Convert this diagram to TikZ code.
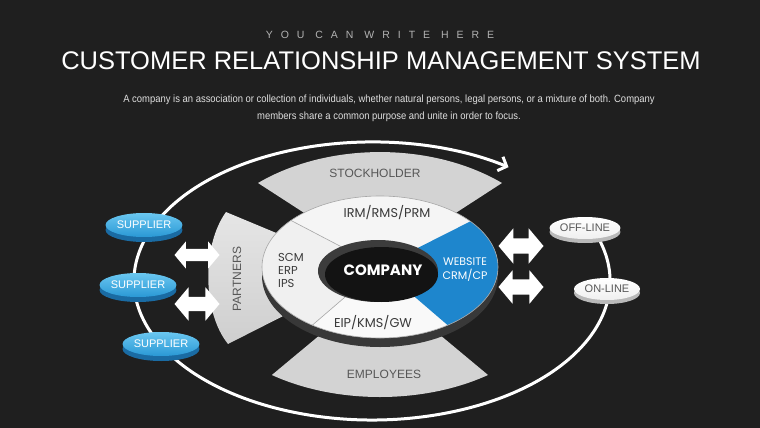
\documentclass[tikz,border=0pt]{standalone}
\usepackage{fontspec}
\setmainfont{Liberation Sans}
\newfontfamily\geo{Poppins}
\newfontfamily\narrow[FakeStretch=0.90]{Liberation Sans}
\newfontfamily\spaced[LetterSpace=76]{Liberation Sans}
\usetikzlibrary{shapes.geometric, shapes.arrows, arrows.meta, shadows}

\definecolor{bgdark}{HTML}{1F1F1F}
\definecolor{bandgray}{HTML}{D3D3D3}
\definecolor{ringside}{HTML}{383838}
\definecolor{holerim}{HTML}{3C3C3C}
\definecolor{holeblack}{HTML}{131313}
\definecolor{crmblue}{HTML}{1E86CD}
\definecolor{suptop}{HTML}{6AC7F0}
\definecolor{supbot}{HTML}{2A98D5}
\definecolor{supside}{HTML}{1A6BA3}
\definecolor{inktext}{HTML}{3A3A3A}
\definecolor{bandtext}{HTML}{575757}

\begin{document}
\begin{tikzpicture}[
  x=1pt, y=-1pt,
  every node/.style={inner sep=0pt},
  band/.style={fill=bandgray},
  orbit/.style={draw=white, line width=3pt, -{Straight Barb[length=7pt, width=15pt]}},
  divider/.style={draw=gray!70, line width=0.6pt},
  ringtext/.style={font=\geo\fontsize{12.8}{14}\selectfont, text=inktext, align=center},
  bandlabel/.style={font=\fontsize{12}{14}\selectfont, text=bandtext},
  supplier/.style={ellipse, minimum width=66pt, minimum height=24pt, top color=suptop, bottom color=supbot,
    copy shadow={shadow xshift=0pt, shadow yshift=-5pt, fill=supside, draw=none},
    text=white, font=\fontsize{11}{13}\selectfont},
  channel/.style={ellipse, minimum width=66pt, minimum height=22pt, top color=white, bottom color=gray!12,
    copy shadow={shadow xshift=0pt, shadow yshift=-4pt, fill=gray!55, draw=none},
    text=bandtext, font=\fontsize{11}{13}\selectfont},
  biarrow/.style={double arrow, fill=white, minimum height=45pt, minimum width=0pt, inner xsep=0pt,
    double arrow tip angle=100}
]
\useasboundingbox (0,0) rectangle (760,428);
\fill[bgdark] (0,0) rectangle (760,428);

% Heading
\node[font=\spaced\fontsize{10.5}{12}\selectfont, text=gray!60] (sub) at (380,35) {YOU CAN WRITE HERE};
\node[font=\fontsize{25.5}{30}\selectfont, text=white] (title) at (381,61) {CUSTOMER RELATIONSHIP MANAGEMENT SYSTEM};
\node[font=\narrow\fontsize{10.5}{17}\selectfont, text=gray!25, align=center] (intro) at (389,108)
  {A company is an association or collection of individuals, whether natural persons, legal persons, or a mixture of both. Company\\
   members share a common purpose and unite in order to focus.};

% Outer cycle
\draw[orbit] (372,281) ++(-22:238 and 139) arc[start angle=-22, end angle=305, x radius=238, y radius=139];

% Bands
\fill[band] (258,183) arc[start angle=-130.2, end angle=-49.8, x radius=189, y radius=131] -- (380,262) -- cycle;
\fill[band] (488,375) arc[start angle=53.8, end angle=126.2, x radius=183, y radius=114] -- (380,285) -- cycle;
\fill[top color=gray!20, bottom color=gray!38] (226,212) .. controls (202,245) and (202,312) .. (228,344) -- (370,272) -- cycle;

% Ring
\fill[ringside] (380,276) ellipse[x radius=118, y radius=71];
\fill[gray!8] (380,267) ellipse[x radius=118, y radius=71];
\fill[gray!12] (380,267) -- ++(125:118 and 71) arc[start angle=125, end angle=221, x radius=118, y radius=71] -- cycle;
\fill[gray!5] (380,267) -- ++(55:118 and 71) arc[start angle=55, end angle=125, x radius=118, y radius=71] -- cycle;
\fill[crmblue] (380,267) -- ++(-40:118 and 71) arc[start angle=-40, end angle=55, x radius=118, y radius=71] -- cycle;
\draw[divider] (380,267) -- ++(125:118 and 71);
\draw[divider] (380,267) -- ++(221:118 and 71);
\draw[divider] (380,267) ellipse[x radius=118, y radius=71];
\fill[holerim] (378,271) ellipse[x radius=60, y radius=31];
\fill[holeblack] (381.5,274.5) ellipse[x radius=56.5, y radius=27.5];

% Labels
\node[bandlabel] (stock) at (375,173) {STOCKHOLDER};
\node[bandlabel] (emp) at (384,374) {EMPLOYEES};
\node[bandlabel, rotate=90] (part) at (237,279) {PARTNERS};
\node[ringtext] (irm) at (387,213) {IRM/RMS/PRM};
\node[ringtext, align=left, anchor=west, font=\geo\fontsize{11.5}{13}\selectfont] (scm) at (278,270) {SCM\\ERP\\IPS};
\node[ringtext] (eip) at (373,323) {EIP/KMS/GW};
\node[ringtext, text=white, font=\geo\bfseries\fontsize{15}{18}\selectfont] (company) at (383,270) {COMPANY};
\node[ringtext, text=white, font=\geo\fontsize{11}{14}\selectfont] (web) at (465,270) {WEBSITE\\CRM/CP};

% Suppliers and channels
\node[supplier] (sup1) at (144,225) {SUPPLIER};
\node[supplier] (sup2) at (138,285) {SUPPLIER};
\node[supplier] (sup3) at (161,344) {SUPPLIER};
\node[channel] (off) at (585,228) {OFF-LINE};
\node[channel] (on) at (607,289) {ON-LINE};

% Exchange arrows
\node[biarrow, inner ysep=6pt, double arrow head extend=7.5pt] (xl1) at (197,255) {};
\node[biarrow, inner ysep=7pt, double arrow head extend=9.5pt] (xl2) at (197,304) {};
\node[biarrow, inner ysep=7.5pt, double arrow head extend=10pt] (xr1) at (521,246) {};
\node[biarrow, inner ysep=7.5pt, double arrow head extend=9pt] (xr2) at (521,287) {};

\end{tikzpicture}
\end{document}
